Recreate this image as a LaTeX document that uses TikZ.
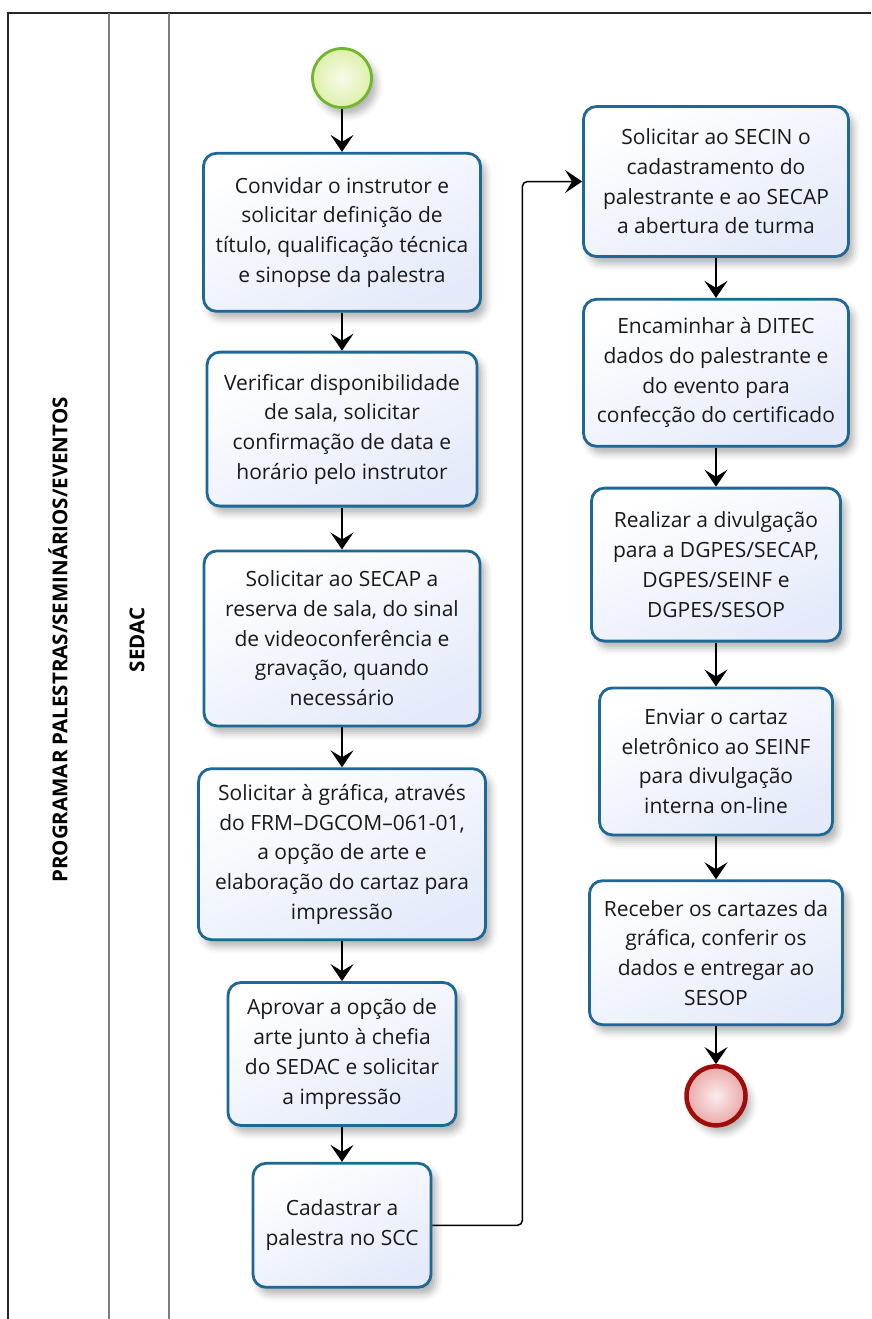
\documentclass[tikz,border=0pt]{standalone}
\usepackage{fontspec}
\setmainfont{Open Sans}
\usetikzlibrary{positioning}
\usetikzlibrary{calc}
\usetikzlibrary{arrows.meta}
\usetikzlibrary{shadows.blur}
\definecolor{taskline}{RGB}{30,104,150}
\definecolor{taskfill}{RGB}{228,234,250}
\definecolor{startline}{RGB}{112,182,46}
\definecolor{startfill}{RGB}{214,236,150}
\definecolor{endline}{RGB}{158,12,12}
\definecolor{endfill}{RGB}{234,168,168}
\definecolor{laneline}{RGB}{125,125,125}
\tikzset{
  shade/.style={blur shadow={shadow xshift=5pt, shadow yshift=-7pt, shadow blur radius=7pt, shadow opacity=30}},
  task/.style={draw=taskline, line width=2.8pt, rounded corners=13pt, shade, top color=white, bottom color=taskfill, shading angle=25, align=center, inner sep=0pt, text=black!90, font=\fontsize{21}{29.7}\selectfont},
  event/.style={circle, shade, minimum size=59pt, inner sep=0pt},
  flow/.style={-{Stealth[length=17pt,width=23pt,inset=7pt]}, line width=1.5pt},
  poolname/.style={rotate=90, font=\bfseries\fontsize{20.5}{24}\selectfont}
}

\begin{document}
\begin{tikzpicture}[x=1pt, y=-1pt]
    %\draw [help lines] (0,0) grid (871,1319);
    \useasboundingbox (0,0) rectangle (871,1319);
    \draw [line width=1.6pt, black!85] (8,1319) -- (8,13) -- (871,13);
    \draw [line width=1.6pt, laneline] (109,13) -- (109,1319);
    \draw [line width=1.6pt, laneline] (169,13) -- (169,1319);
    \node [poolname] (pool) at (58,640) {PROGRAMAR PALESTRAS/SEMINÁRIOS/EVENTOS};
    \node [poolname] (lane) at (137,640) {SEDAC};

    \node [event, draw=startline, line width=2.8pt, inner color=startfill!20!white, outer color=startfill!80!white] (start) at (342,78) {};
    \node [task, minimum width=277pt, minimum height=158pt, below=43pt of start] (conv) {Convidar o instrutor e\\solicitar definição de\\título, qualificação técnica\\e sinopse da palestra};
    \node [task, minimum width=270pt, minimum height=154pt, below=38pt of conv] (verif) {Verificar disponibilidade\\de sala, solicitar\\confirmação de data e\\horário pelo instrutor};
    \node [task, minimum width=276pt, minimum height=175pt, below=42pt of verif] (sol_secap) {Solicitar ao SECAP a\\reserva de sala, do sinal\\de videoconferência e\\gravação, quando\\necessário};
    \node [task, minimum width=287pt, minimum height=171pt, below=40pt of sol_secap] (sol_graf) {Solicitar à gráfica, através\\do FRM–DGCOM–061-01,\\a opção de arte e\\elaboração do cartaz para\\impressão};
    \node [task, minimum width=228pt, minimum height=143pt, below=40pt of sol_graf] (aprov) {Aprovar a opção de\\arte junto à chefia\\do SEDAC e solicitar\\a impressão};
    \node [task, minimum width=178pt, minimum height=124pt, below=35pt of aprov] (cad) {Cadastrar a\\palestra no SCC};

    \node [task, minimum width=265pt, minimum height=150pt] (sol_secin) at (716,181.5) {Solicitar ao SECIN o\\cadastramento do\\palestrante e ao SECAP\\a abertura de turma};
    \node [task, minimum width=265pt, minimum height=147pt, below=40pt of sol_secin] (enc_ditec) {Encaminhar à DITEC\\dados do palestrante e\\do evento para\\confecção do certificado};
    \node [task, minimum width=249pt, minimum height=153pt, below=39pt of enc_ditec] (divulg) {Realizar a divulgação\\para a DGPES/SECAP,\\DGPES/SEINF e\\DGPES/SESOP};
    \node [task, minimum width=233pt, minimum height=147pt, below=44pt of divulg] (cartaz) {Enviar o cartaz\\eletrônico ao SEINF\\para divulgação\\interna on-line};
    \node [task, minimum width=253pt, minimum height=144pt, below=43pt of cartaz] (receb) {Receber os cartazes da\\gráfica, conferir os\\dados e entregar ao\\SESOP};
    \node [event, draw=endline, line width=4.5pt, inner color=endfill!20!white, outer color=endfill, below=38pt of receb] (fim) {};

    \coordinate [right=90pt of cad.east] (cad_e);

    \draw [flow] (start) -- (conv);
    \draw [flow] (conv) -- (verif);
    \draw [flow] (verif) -- (sol_secap);
    \draw [flow] (sol_secap) -- (sol_graf);
    \draw [flow] (sol_graf) -- (aprov);
    \draw [flow] (aprov) -- (cad);
    \draw [flow, rounded corners=5pt] (cad.east) -- (cad_e) |- (sol_secin.west);
    \draw [flow] (sol_secin) -- (enc_ditec);
    \draw [flow] (enc_ditec) -- (divulg);
    \draw [flow] (divulg) -- (cartaz);
    \draw [flow] (cartaz) -- (receb);
    \draw [flow] (receb) -- (fim);
\end{tikzpicture}
\end{document}
